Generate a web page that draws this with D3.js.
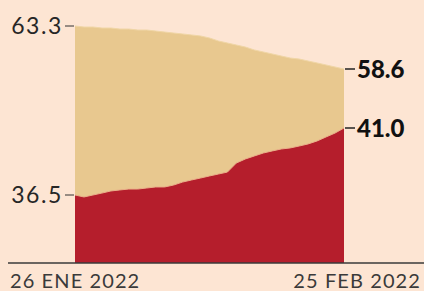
<!DOCTYPE html>
<html><head><meta charset="utf-8">
<script src="https://cdn.jsdelivr.net/npm/d3@7"></script>
<style>
html,body{margin:0;padding:0;background:#fde5d3;}
svg{display:block;}
</style></head>
<body><svg id="c" width="424" height="291"></svg>
<script>
// Data: daily values from 26 Jan 2022 to 25 Feb 2022
const days = d3.range(31);
const dateLabels = ["26 ENE 2022", "25 FEB 2022"];
const topSeries = [63.3,63.19,63.19,63.08,63.08,62.97,62.97,62.86,62.86,62.75,62.64,62.53,62.43,62.32,62.21,61.99,61.66,61.44,61.22,61.0,60.68,60.46,60.24,60.02,59.8,59.69,59.47,59.26,59.04,58.82,58.6];
const lowSeries = [36.5,36.37,36.5,36.63,36.77,36.84,36.9,36.9,36.97,37.04,37.04,37.17,37.37,37.51,37.64,37.78,37.91,38.04,38.65,38.92,39.12,39.32,39.46,39.59,39.66,39.79,39.93,40.13,40.4,40.66,41.0];
const leftTicks = [63.3, 36.5];
const rightTicks = [58.6, 41.0];

const svg = d3.select("#c");
const x = d3.scaleLinear().domain([0, 30]).range([75, 344]);
// piecewise (non-uniform) value axis, as in the original graphic
const y = d3.scaleLinear().domain([32, 36.5, 41.0, 58.6, 63.3]).range([263, 195, 128, 69, 26]);
const base = y.range()[0];

svg.append("path")
  .datum(days)
  .attr("fill", "#e8c88f")
  .attr("d", d3.area().x(d => x(d)).y0(base).y1(d => y(topSeries[d])));
svg.append("path")
  .datum(days)
  .attr("fill", "none").attr("stroke", "#f0d6a6").attr("stroke-width", 1)
  .attr("d", d3.line().x(d => x(d)).y(d => y(topSeries[d])));
svg.append("path")
  .datum(days)
  .attr("fill", "#b51e2c")
  .attr("d", d3.area().x(d => x(d)).y0(base).y1(d => y(lowSeries[d])));
svg.append("path")
  .datum(days)
  .attr("fill", "none").attr("stroke", "#eab08a").attr("stroke-width", 1)
  .attr("d", d3.line().x(d => x(d)).y(d => y(lowSeries[d])));

// left axis labels
const left = svg.append("g");
leftTicks.forEach(v => {
  left.append("line").attr("x1", 65).attr("x2", 74).attr("y1", y(v)).attr("y2", y(v))
    .attr("stroke", "#333").attr("stroke-width", 1);
  left.append("text").attr("x", 63).attr("y", y(v)).attr("dy", "0.36em")
    .attr("text-anchor", "end").attr("font-family", "Lato, sans-serif")
    .attr("font-size", 23).attr("letter-spacing", 1.6).attr("fill", "#262626").text(d3.format(".1f")(v));
});
// right labels
rightTicks.forEach(v => {
  svg.append("line").attr("x1", 345).attr("x2", 355).attr("y1", y(v)).attr("y2", y(v))
    .attr("stroke", "#222").attr("stroke-width", 1.5);
  svg.append("text").attr("x", 357).attr("y", y(v)).attr("dy", "0.36em")
    .attr("font-family", "Lato, sans-serif").attr("font-weight", 900)
    .attr("font-size", 24).attr("fill", "#111").text(d3.format(".1f")(v));
});

// baseline and date labels
svg.append("line").attr("x1", 8).attr("x2", 424).attr("y1", base).attr("y2", base)
  .attr("stroke", "#3a3a3a").attr("stroke-width", 1.5);
svg.append("text").attr("x", 10).attr("y", 288).attr("font-family", "Lato, sans-serif")
  .attr("font-size", 20).attr("letter-spacing", 1.1).attr("fill", "#3a3a3a").text(dateLabels[0]);
svg.append("text").attr("x", 421).attr("y", 288).attr("text-anchor", "end")
  .attr("font-family", "Lato, sans-serif")
  .attr("font-size", 20).attr("letter-spacing", 1.1).attr("fill", "#3a3a3a").text(dateLabels[1]);
</script></body></html>
